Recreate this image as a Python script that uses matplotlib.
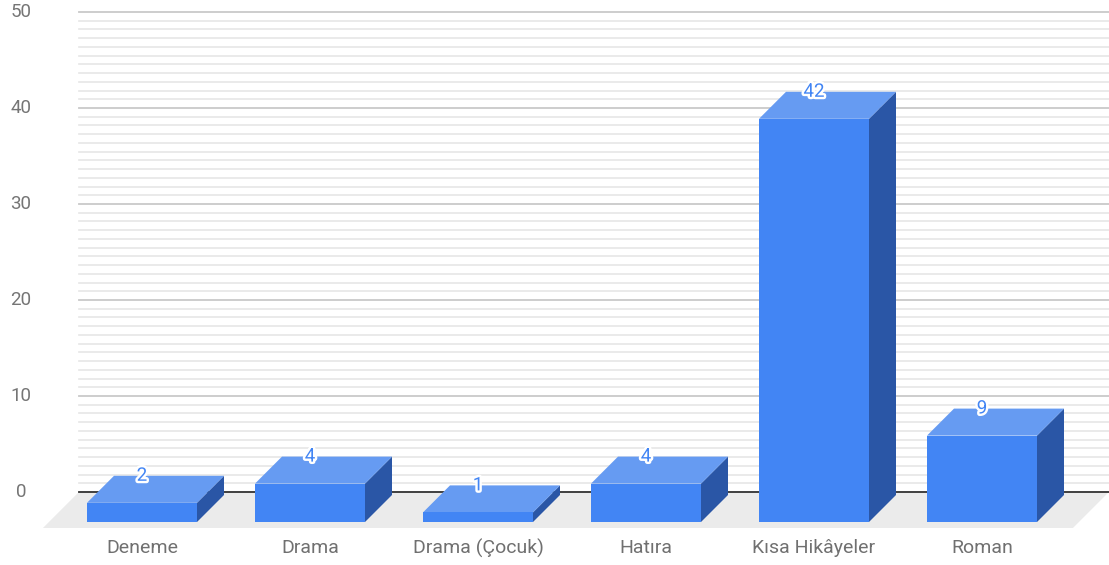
import matplotlib.pyplot as plt
import matplotlib.patheffects as pe
from matplotlib.patches import Polygon
import numpy as np

plt.rcParams['font.family'] = ['Roboto', 'DejaVu Sans']

categorias = ["Deneme", "Drama", "Drama (Çocuk)", "Hatıra", "Kısa Hikâyeler", "Roman"]
valores = [2, 4, 1, 4, 42, 9]
ticks_y = [0, 10, 20, 30, 40, 50]

# colores estilo google charts
c_frente = "#4285f4"
c_techo = "#669bf2"
c_lado = "#2a56a6"
c_piso = "#ebebeb"

# escala: 168 px por categoria, 9.6 px por unidad
px_x = 168.0
px_y = 9.6

fondo = 36   # pared de atras
z_ini = 6    # cara frontal de las barras
z_fin = 33   # cara trasera

def proy(x, v, z):
    """pasa (categoria, valor, profundidad en px) a coordenadas del eje"""
    return (x + (z - z_ini) / px_x, v + z / px_y)

fig = plt.figure(figsize=(11.09, 5.65), dpi=100)
ax = fig.add_axes([0, 0, 1, 1])
ax.set_xlim(-142 / px_x, (1109 - 142) / px_x)
ax.set_ylim(-37 / px_y, 528 / px_y)
ax.axis("off")

ancho = 110 / px_x / 2
x_izq = -0.554
x_der = 5.577

# piso
piso = [proy(x_izq, 0, 0), proy(x_der, 0, 0), proy(x_der, 0, fondo), proy(x_izq, 0, fondo)]
ax.add_patch(Polygon(piso, closed=True, facecolor=c_piso, edgecolor="none", zorder=1))

# grilla en la pared de atras
menores = np.arange(0, 50.001, 10 / 11)
for v in menores:
    p0 = proy(x_izq, v, fondo)
    p1 = proy(x_der, v, fondo)
    ax.plot([p0[0], p1[0]], [p0[1], p1[1]], color="#e6e6e6", lw=1.2, zorder=2)
for v in ticks_y[1:]:
    p0 = proy(x_izq, v, fondo)
    p1 = proy(x_der, v, fondo)
    ax.plot([p0[0], p1[0]], [p0[1], p1[1]], color="#cccccc", lw=1.3, zorder=2)
p0 = proy(x_izq, 0, fondo)
p1 = proy(x_der, 0, fondo)
ax.plot([p0[0], p1[0]], [p0[1], p1[1]], color="#333333", lw=1.3, zorder=3)

for t in ticks_y:
    px, py = proy(x_izq, t, fondo)
    ax.text(-121 / px_x, py, str(t), ha="center", va="center",
            fontsize=13.5, color="#757575")

# barras
for i, (cat, val) in enumerate(zip(categorias, valores)):
    x0, x1 = i - ancho, i + ancho
    frente = [proy(x0, 0, z_ini), proy(x1, 0, z_ini), proy(x1, val, z_ini), proy(x0, val, z_ini)]
    techo = [proy(x0, val, z_ini), proy(x1, val, z_ini), proy(x1, val, z_fin), proy(x0, val, z_fin)]
    lado = [proy(x1, 0, z_ini), proy(x1, 0, z_fin), proy(x1, val, z_fin), proy(x1, val, z_ini)]
    ax.add_patch(Polygon(lado, closed=True, facecolor=c_lado, edgecolor="none", zorder=5))
    ax.add_patch(Polygon(techo, closed=True, facecolor=c_techo, edgecolor="none", zorder=5))
    ax.add_patch(Polygon(frente, closed=True, facecolor=c_frente, edgecolor="none", zorder=6))

    ex, ey = proy(i, val, z_fin)
    ax.text(i, ey, str(val), ha="center", va="center", fontsize=13.5, color=c_frente, zorder=8,
            path_effects=[pe.withStroke(linewidth=3.5, foreground="white")])

    lx, ly = proy(i, 0, 0)
    ax.text(i, ly - 20 / px_y, cat, ha="center", va="center", fontsize=14, color="#707070")

plt.savefig("out.png", dpi=100)
